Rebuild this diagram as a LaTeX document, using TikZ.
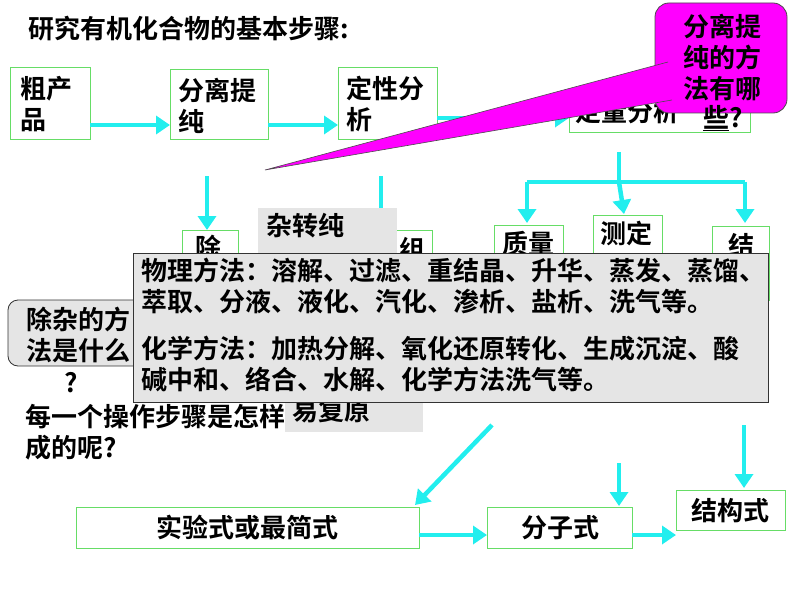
\documentclass[tikz,border=0pt]{standalone}
\usepackage{fontspec}
\usetikzlibrary{arrows.meta}
\newfontfamily\cjk{Noto Sans CJK SC}[BoldFont={* Bold}]
\definecolor{cy}{HTML}{22EEEE}
\definecolor{gb}{HTML}{66DD66}
\definecolor{mg}{HTML}{FF00FF}
\begin{document}
\begin{tikzpicture}[x=1pt,y=-1pt,
  txt/.style={font=\cjk\bfseries\fontsize{26}{31}\selectfont,inner sep=0pt,anchor=north west,align=left},
  gbox/.style={draw=gb,line width=1pt,fill=white},
  arr/.style={draw=cy,line width=4.5pt,-{Triangle[length=14pt,width=18pt]}},
  ln/.style={draw=cy,line width=4.5pt}]
\useasboundingbox (0,0) rectangle (794,596);
\node[txt] (title) at (28,16) {研究有机化合物的基本步骤:};
% top row
\draw[gbox] (10,68) rectangle (90,140); \node[txt] (cp) at (20,76) {粗产\\品};
\draw[gbox] (170,70) rectangle (268,140); \node[txt] (fl) at (178,78) {分离提\\纯};
\draw[gbox] (338,68) rectangle (437,140); \node[txt] (dx) at (346,76) {定性分\\析};
\draw[gbox] (569,95) rectangle (750,133); \node[txt] (dl) at (575,99) {定量分析};
\coordinate (a1) at (90,125); \coordinate (a2) at (170,125);
\coordinate (b1) at (268,125); \coordinate (b2) at (338,125);
\coordinate (c1) at (437,118); \coordinate (c2) at (569,118);
\draw[arr] (a1) -- (a2); \draw[arr] (b1) -- (b2); \draw[arr] (c1) -- (c2);
% callout
\draw[fill=mg,draw=black!70,line width=0.8pt,rounded corners=14pt] (655,3) rectangle (787,113);
\fill[mg] (668,62) -- (265,170) -- (672,100) -- cycle;
\draw[black!70,line width=0.6pt] (668,62) -- (265,170) -- (672,100);
\node[txt,align=center,anchor=north] (co) at (722,14) {分离提\\纯的方\\法有哪};
\node[txt] (xie) at (703,105) {\underline{些}?};
% down arrows
\coordinate (d1) at (207,176); \coordinate (d2) at (207,230);
\draw[arr] (d1) -- (d2);
\coordinate (e1) at (381,176); \coordinate (e2) at (381,215);
\draw[ln] (e1) -- (e2);
\coordinate (f0) at (619,152); \coordinate (f1) at (619,182);
\coordinate (fl1) at (527,182); \coordinate (fr1) at (745,182);
\draw[ln] (f0) -- (f1); \draw[ln] (fl1) -- (fr1);
\draw[arr] (fl1) -- (527,223); \draw[arr] (f1) -- (624,214); \draw[arr] (fr1) -- (745,223);
% partial boxes
\draw[gbox] (182,230) rectangle (238,300); \node[txt] (chu) at (195,235) {除};
\draw[gbox] (395,230) rectangle (432,300); \node[txt] (zu) at (399,237) {组};
\draw[gbox] (494,225) rectangle (563,300); \node[txt] (zl) at (502,231) {质量};
\draw[gbox] (593,215) rectangle (662,300); \node[txt] (cd) at (600,221) {测定};
\draw[gbox] (712,226) rectangle (769,300); \node[txt] (jie) at (728,233) {结};
\fill[gray!20] (258,208) rectangle (397,260); \node[txt] (zzc) at (266,213) {杂转纯};
\fill[gray!20] (285,390) rectangle (423,432); \node[txt] (yfy) at (292,398) {易复原};
% left rounded box
\draw[fill=gray!20,draw=black!80,line width=0.8pt,rounded corners=10pt] (8,300) rectangle (160,366);
\node[txt] (q1) at (26,307) {除杂的方\\法是什么};
\node[txt] (q2) at (64,372) {?};
\node[txt] (q3) at (25,404) {每一个操作步骤是怎样\\成的呢?};
% big gray box
\draw[fill=gray!20,draw=black!80,line width=0.8pt] (133,253) rectangle (768,402);
\node[txt] (phys) at (141,258) {物理方法：溶解、过滤、重结晶、升华、蒸发、蒸馏、\\萃取、分液、液化、汽化、渗析、盐析、洗气等。};
\node[txt] (chem) at (141,336) {化学方法：加热分解、氧化还原转化、生成沉淀、酸\\碱中和、络合、水解、化学方法洗气等。};
% bottom
\draw[gbox] (76,507) rectangle (419,548); \node[txt,anchor=center] (syf) at (247,528) {实验式或最简式};
\draw[gbox] (487,507) rectangle (632,548); \node[txt,anchor=center] (fzs) at (560,528) {分子式};
\draw[gbox] (676,490) rectangle (785,530); \node[txt,anchor=center] (jgs) at (730,511) {结构式};
\draw[arr] (492,425) -- (415,505);
\draw[arr] (419,535) -- (487,535);
\draw[arr] (632,535) -- (676,535);
\draw[arr] (619,463) -- (619,506);
\draw[arr] (744,425) -- (744,488);
\end{tikzpicture}
\end{document}
